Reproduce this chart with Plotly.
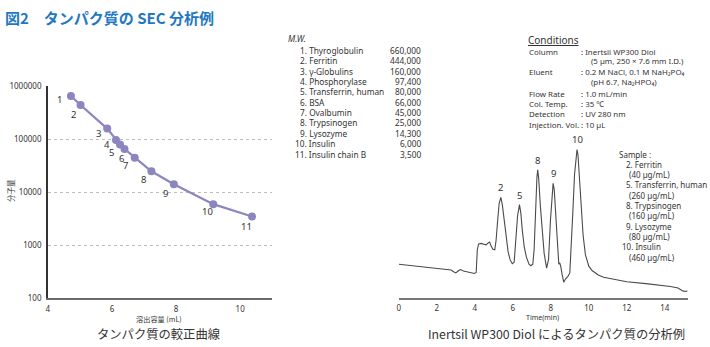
import math
import plotly.graph_objects as go

W, H = 710, 347

# ---------------- data ----------------
# calibration curve
elution_ml = [4.72, 5.02, 5.85, 6.125, 6.25, 6.39, 6.71, 7.23, 7.93, 9.16, 10.37]
mol_weight = [660000, 444000, 160000, 97400, 80000, 66000, 45000, 25000, 14300, 6000, 3500]
point_ids = ["1", "2", "3", "4", "5", "6", "7", "8", "9", "10", "11"]
y_tickvals = [100, 1000, 10000, 100000, 1000000]
y_ticktext = ["100", "1000", "10000", "100000", "1000000"]
x_tickvals = [4, 6, 8, 10]

# M.W. table
proteins = ["Thyroglobulin", "Ferritin", "γ-Globulins", "Phosphorylase", "Transferrin, human",
            "BSA", "Ovalbumin", "Trypsinogen", "Lysozyme", "Insulin", "Insulin chain B"]
mw_text = ["660,000", "444,000", "160,000", "97,400", "80,000", "66,000", "45,000",
           "25,000", "14,300", "6,000", "3,500"]

# conditions
cond_labels = ["Column", "", "Eluent", "", "Flow Rate", "Col. Temp.", "Detection", "Injection. Vol."]
cond_values = [": Inertsil WP300 Diol", "(5 µm, 250 × 7.6 mm I.D.)",
               ": 0.2 M NaCl, 0.1 M NaH₂PO₄", "(pH 6.7, Na₂HPO₄)",
               ": 1.0 mL/min", ": 35 ℃", ": UV 280 nm", ": 10 µL"]

# sample list
sample_ids = ["2.", "5.", "8.", "9.", "10."]
sample_names = ["Ferritin", "Transferrin, human", "Trypsinogen", "Lysozyme", "Insulin"]
sample_conc = ["(40 µg/mL)", "(260 µg/mL)", "(160 µg/mL)", "(80 µg/mL)", "(460 µg/mL)"]

# chromatogram
time_min = [0, 0.5, 1.0, 1.5, 2.0, 2.5, 2.75, 2.9, 3.0, 3.15, 3.25, 3.4, 3.6, 3.8, 3.97, 4.07,
            4.13, 4.2, 4.35, 4.5, 4.6, 4.7, 4.78, 4.85, 4.95, 5.05, 5.12, 5.2, 5.28, 5.37, 5.45,
            5.55, 5.65, 5.75, 5.85, 5.97, 6.07, 6.15, 6.25, 6.35, 6.42, 6.5, 6.6, 6.72, 6.85,
            6.95, 7.05, 7.12, 7.2, 7.27, 7.31, 7.36, 7.45, 7.55, 7.65, 7.78, 7.88, 7.98, 8.06,
            8.12, 8.18, 8.26, 8.34, 8.42, 8.47, 8.52, 8.6, 8.68, 8.78, 8.9, 9.0, 9.07, 9.15,
            9.25, 9.33, 9.38, 9.43, 9.5, 9.6, 9.7, 9.82, 10.0, 10.17, 10.5, 10.78, 11.5, 12.0,
            13.0, 13.75, 14.3, 14.7, 14.95, 15.1, 15.2]
signal = [35, 34, 33, 31.5, 30.5, 29.5, 29, 27, 26, 28.5, 29.5, 28, 27, 26.5, 25.5, 26.5,
          50, 56, 56.5, 55.5, 55, 57, 58, 54, 50.5, 50, 60, 80, 98, 104, 96,
          80, 62, 48, 40, 35.5, 37, 55, 85, 96.5, 88, 70, 53, 42, 35,
          33.5, 35, 50, 95, 125, 132.5, 124, 95, 66, 46, 31, 40, 80, 110,
          118.5, 112, 85, 55, 35, 36.5, 33, 24, 16.5, 20, 22.5, 26, 48, 85,
          128, 150, 153.5, 148, 125, 95, 65, 45, 33, 28.5, 24, 21.5, 19, 17,
          15, 13.5, 12, 10.5, 7.5, 6.8, 7.5]
peak_ids = ["2", "5", "8", "9", "10"]
peak_times = [5.37, 6.35, 7.31, 8.12, 9.38]
peak_heights = [104, 96.5, 132.5, 118.5, 153.5]
chrom_ticks = [0, 2, 4, 6, 8, 10, 12, 14]

# ---------------- helpers ----------------
FONT = "Noto Sans, DejaVu Sans, Noto Sans CJK JP, sans-serif"
JFONT = "Noto Sans CJK JP, Noto Sans, sans-serif"
TXT = "#333333"


def px(x):
    return x / W


def py(y):
    return 1 - y / H


annots = []


def note(x, y, text, size=8.5, xanchor="left", color=TXT, family=FONT, **kw):
    annots.append(dict(x=px(x), y=py(y), xref="paper", yref="paper", text=text,
                       showarrow=False, xanchor=xanchor, yanchor="middle", borderpad=0,
                       font=dict(family=family, size=size, color=color), **kw))


fig = go.Figure()

# calibration curve
PURPLE = "#8c86bf"
fig.add_trace(go.Scatter(x=elution_ml, y=mol_weight, mode="lines+markers",
                         line=dict(color=PURPLE, width=2.2),
                         marker=dict(color=PURPLE, size=8),
                         xaxis="x", yaxis="y", showlegend=False, hoverinfo="skip"))

label_offsets = [(-11, -4), (-7, -9), (-9, -5), (-9, -5), (-8, -8), (-3, -10), (-9, -8),
                 (-8, -8), (-8, -9), (-6, -7), (-6, -10)]
for xi, yi, lab, (dx, dy) in zip(elution_ml, mol_weight, point_ids, label_offsets):
    annots.append(dict(x=xi, y=math.log10(yi), xref="x", yref="y", text=lab,
                       showarrow=False, xshift=dx, yshift=dy,
                       font=dict(family=FONT, size=9.5, color=TXT)))

# chromatogram
fig.add_trace(go.Scatter(x=time_min, y=signal, mode="lines",
                         line=dict(color="#4a4a4a", width=1.1),
                         xaxis="x2", yaxis="y2", showlegend=False, hoverinfo="skip"))
for t, h, lab in zip(peak_times, peak_heights, peak_ids):
    annots.append(dict(x=t, y=h, xref="x2", yref="y2", text=lab, showarrow=False,
                       yanchor="bottom", yshift=1,
                       font=dict(family=FONT, size=9.5, color=TXT)))

# title
note(2, 12, "<b>図2　タンパク質の SEC 分析例</b>", size=15, color="#1f78c1", family=JFONT)

# axis titles & subtitles
note(9, 190, "分子量", size=7.5, xanchor="center", textangle=-90, family=JFONT)
note(157.5, 323.5, "溶出容量 (mL)", size=7.2, xanchor="center", family=JFONT)
note(157, 338.5, "タンパク質の較正曲線", size=12.3, xanchor="center", family=JFONT)
note(542, 321.5, "Time(min)", size=7, xanchor="center")
note(556, 338.5, "Inertsil WP300 Diol によるタンパク質の分析例", size=12.3, xanchor="center",
     family=JFONT)

# M.W. table
note(286, 34, "<i>M.W.</i>", size=8.5)
for i, (name, mw) in enumerate(zip(proteins, mw_text)):
    yy = 45.7 + i * 10.73
    idx = f"{i + 1}."
    xl = 304.5 - (4.8 * (len(idx) - 1) + 2.3)
    note(xl, yy, f"{idx} {name}", size=8.3)
    note(421, yy, mw, xanchor="right", size=8.3)

# conditions
note(526, 35, "<u>Conditions</u>", size=10)
cond_y = [47, 57, 68, 78.5, 90.5, 101.5, 112, 123]
for lab, val, yy in zip(cond_labels, cond_values, cond_y):
    if lab:
        note(527, yy, lab, size=7.9)
        note(580, yy, val, size=7.9)
    else:
        note(590, yy, val, size=7.9)

# sample list
note(618, 153, "Sample :", size=8)
for i, (sid, nm, cc) in enumerate(zip(sample_ids, sample_names, sample_conc)):
    y1 = 163.5 + i * 21.3
    xl = 632 - (4.6 * (len(sid) - 1) + 2.2)
    note(xl, y1, f"{sid} {nm}", size=8)
    note(628, y1 + 10.65, cc, size=8)

axis_font = dict(family=FONT, size=8, color=TXT)

fig.update_layout(
    width=W, height=H, margin=dict(l=0, r=0, t=0, b=0),
    paper_bgcolor="white", plot_bgcolor="white",
    annotations=annots,
    xaxis=dict(domain=[px(46), px(271)], range=[4, 11], tickvals=x_tickvals,
               showgrid=False, zeroline=False, showline=True, linecolor="#6b6b6b",
               linewidth=2, ticks="", tickfont=axis_font, ticklabelstandoff=2,
               anchor="y"),
    yaxis=dict(domain=[py(302), py(83)], type="log", range=[2, 6], tickvals=y_tickvals,
               ticktext=y_ticktext, showgrid=True, gridcolor="#bdbdbd", griddash="dot",
               gridwidth=1, zeroline=False, showline=True, linecolor="#333333",
               linewidth=1.5, ticks="", tickfont=axis_font, ticklabelstandoff=3,
               anchor="x"),
    xaxis2=dict(domain=[px(398), px(687.5)], range=[0, 15.2], tickvals=chrom_ticks,
                showgrid=False, zeroline=False, showline=True, linecolor="#777777",
                linewidth=1.5, ticks="", tickfont=axis_font, ticklabelstandoff=2,
                anchor="y2"),
    yaxis2=dict(domain=[py(301.7), py(141.7)], range=[0, 160], visible=False,
                anchor="x2"),
)

fig.write_html("out.html")
